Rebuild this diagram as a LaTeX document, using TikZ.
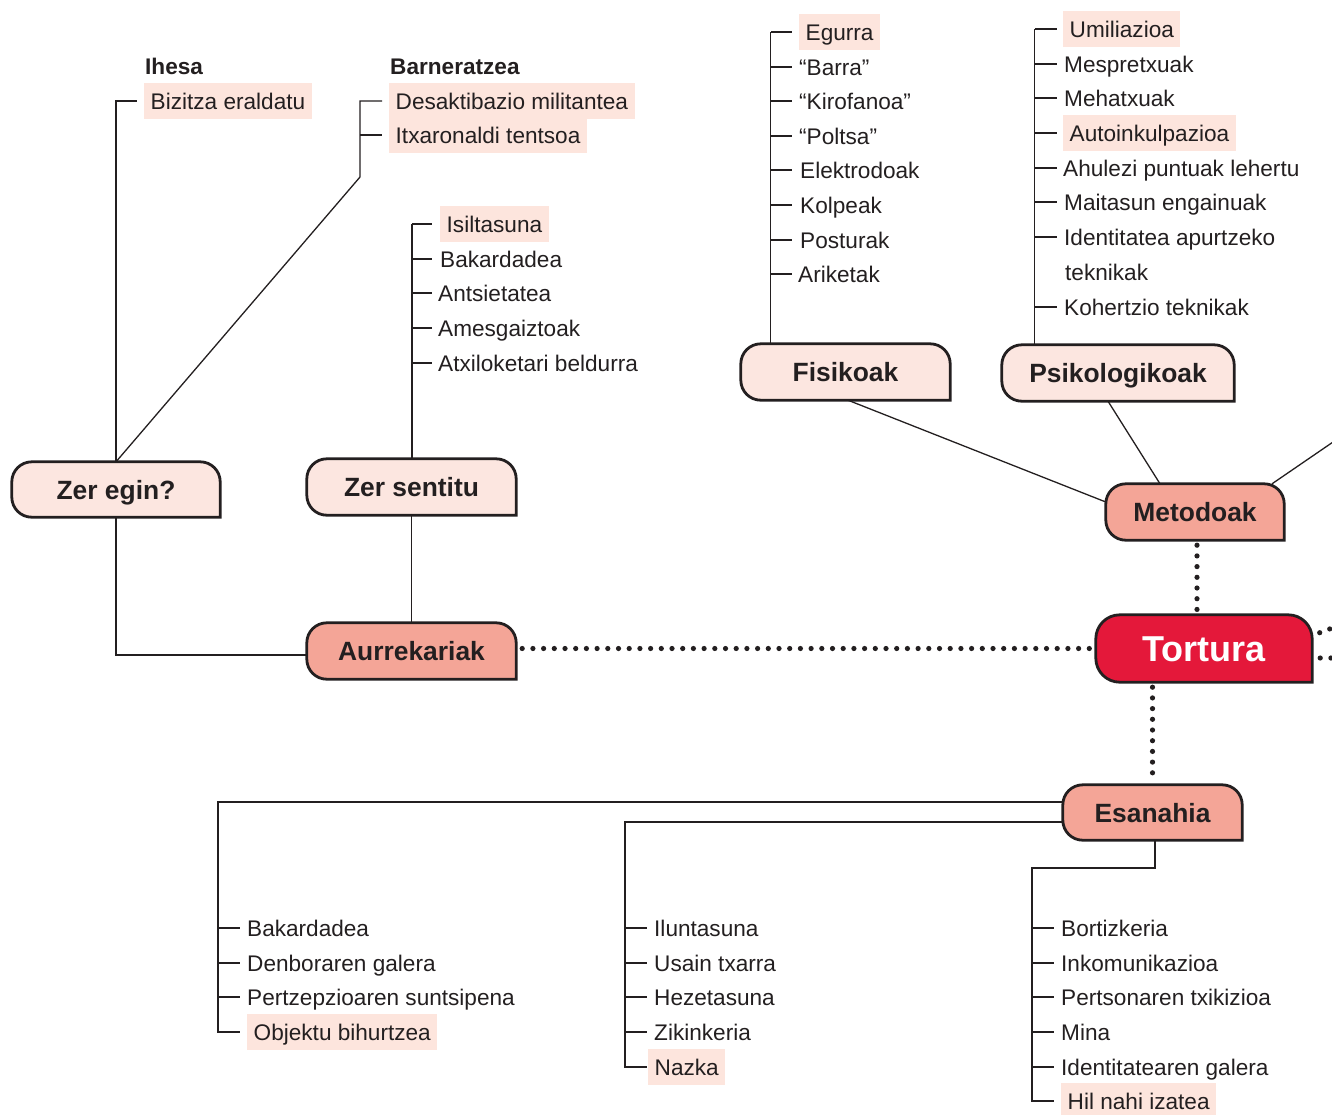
\documentclass[tikz,border=0pt]{standalone}
\usepackage{fontspec}
\setmainfont{Liberation Sans}
\usetikzlibrary{backgrounds}
\definecolor{ink}{HTML}{231F20}
\definecolor{hl}{HTML}{FDE5DD}
\definecolor{lightbox}{HTML}{FCE6E0}
\definecolor{salmon}{HTML}{F4A597}
\definecolor{torred}{HTML}{E4183A}
\tikzset{
  item/.style={anchor=west, inner xsep=0pt, inner ysep=0pt, text height=16pt, text depth=0pt, font=\fontsize{22.6}{26}\selectfont, text=ink},
  hitem/.style={item, fill=hl, inner xsep=6.5pt, inner ysep=10pt},
  blabel/.style={item, font=\fontsize{22.6}{26}\selectfont\bfseries},
  boxnode/.style={inner sep=0pt, text height=19pt, text depth=0pt, font=\fontsize{26.4}{30}\selectfont\bfseries, text=ink},
  boxline/.style={draw=ink, line width=2.8pt},
  conn/.style={draw=ink, line width=1.3pt},
  dots/.style={draw=ink, line width=5.2pt, line cap=round, dash pattern=on 0pt off 10.7pt},
}
\newcommand{\tortbox}[3]{%
  \draw[boxline, fill=#2] (#1.south east) -- ([xshift=#3]#1.south west)
    arc[start angle=270, end angle=180, radius=#3] -- ([yshift=-#3]#1.north west)
    arc[start angle=180, end angle=90, radius=#3] -- ([xshift=-#3]#1.north east)
    arc[start angle=90, end angle=0, radius=#3] -- cycle;}
\begin{document}
\begin{tikzpicture}[x=1pt,y=1pt]
\useasboundingbox (0,0) rectangle (1332,-1114);

% ---------- main boxes ----------
\node[boxnode, minimum width=208pt, minimum height=55pt] (zeregin) at (116,-489.5) {Zer egin?};
\node[boxnode, minimum width=209pt, minimum height=56pt] (zersentitu) at (411.5,-487) {Zer sentitu};
\node[boxnode, minimum width=209pt, minimum height=56pt] (aurrekariak) at (411.5,-651) {Aurrekariak};
\node[boxnode, minimum width=209pt, minimum height=56pt] (fisikoak) at (845.5,-372) {Fisikoak};
\node[boxnode, minimum width=232pt, minimum height=56pt] (psiko) at (1118,-373) {Psikologikoak};
\node[boxnode, minimum width=178pt, minimum height=56pt] (metodoak) at (1195,-512) {Metodoak};
\node[boxnode, minimum width=216pt, minimum height=67pt, text height=26pt, text=white, font=\fontsize{36}{40}\selectfont\bfseries] (tortura) at (1204,-648.5) {Tortura};
\node[boxnode, minimum width=179pt, minimum height=55pt] (esanahia) at (1152.5,-812.5) {Esanahia};

\begin{scope}[on background layer]
  \tortbox{zeregin}{lightbox}{20pt}
  \tortbox{zersentitu}{lightbox}{20pt}
  \tortbox{aurrekariak}{salmon}{20pt}
  \tortbox{fisikoak}{lightbox}{20pt}
  \tortbox{psiko}{lightbox}{20pt}
  \tortbox{metodoak}{salmon}{20pt}
  \tortbox{tortura}{torred}{24pt}
  \tortbox{esanahia}{salmon}{20pt}
\end{scope}

% ---------- Zer egin? ----------
\node[blabel] (ihesa) at (145,-66) {Ihesa};
\node[hitem] (bizitza) at (144,-101) {Bizitza eraldatu};
\node[blabel] (barner) at (390,-66) {Barneratzea};
\node[hitem] (desak) at (389,-101) {Desaktibazio militantea};
\node[hitem] (itxar) at (389,-135) {Itxaronaldi tentsoa};
\coordinate (bend) at (360,-177);
\draw[conn] (zeregin.north) |- ([xshift=-7pt]bizitza.west);
\draw[conn] (zeregin.north) -- (bend) |- ([xshift=-7pt]desak.west);
\draw[conn] (bend |- itxar.west) -- ([xshift=-7pt]itxar.west);
\draw[conn] (zeregin.south) |- ([yshift=-4pt]aurrekariak.west);

% ---------- Zer sentitu ----------
\node[hitem] (isil) at (440,-224) {Isiltasuna};
\node[item] (bak1) at (440,-259) {Bakardadea};
\node[item] (ants) at (438,-293) {Antsietatea};
\node[item] (ames) at (438,-328) {Amesgaiztoak};
\node[item] (atxi) at (438,-363) {Atxiloketari beldurra};
\coordinate (zsp) at ([xshift=0.5pt]zersentitu.north);
\draw[conn] (zsp) -- (zsp |- isil.west);
\foreach \n in {isil,bak1,ants,ames,atxi} \draw[conn] (zsp |- \n.west) -- ++(20,0);
\draw[conn] (zersentitu.south) -- (aurrekariak.north);

% ---------- Fisikoak ----------
\node[hitem] (egurra) at (799,-32) {Egurra};
\node[item] (barra) at (799,-67) {“Barra”};
\node[item] (kirof) at (799,-101) {“Kirofanoa”};
\node[item] (poltsa) at (799,-136) {“Poltsa”};
\node[item] (elek) at (800,-170) {Elektrodoak};
\node[item] (kolp) at (800,-205) {Kolpeak};
\node[item] (post) at (800,-240) {Posturak};
\node[item] (arik) at (798,-274) {Ariketak};
\coordinate (fsp) at ([xshift=30pt]fisikoak.north west);
\draw[conn] (fsp) -- (fsp |- egurra.west);
\foreach \n in {egurra,barra,kirof,poltsa,elek,kolp,post,arik} \draw[conn] (fsp |- \n.west) -- ++(21,0);

% ---------- Psikologikoak ----------
\node[hitem] (umil) at (1063,-29) {Umiliazioa};
\node[item] (mesp) at (1064,-64) {Mespretxuak};
\node[item] (meha) at (1064,-98) {Mehatxuak};
\node[hitem] (auto) at (1063,-133) {Autoinkulpazioa};
\node[item] (ahul) at (1063,-168) {Ahulezi puntuak lehertu};
\node[item] (mait) at (1064,-202) {Maitasun engainuak};
\node[item] (iden) at (1064,-237) {Identitatea apurtzeko};
\node[item] (tekn) at (1065,-272) {teknikak};
\node[item] (kohe) at (1064,-307) {Kohertzio teknikak};
\coordinate (psp) at ([xshift=33pt]psiko.north west);
\draw[conn] (psp) -- (psp |- umil.west);
\foreach \n in {umil,mesp,meha,auto,ahul,mait,iden,kohe} \draw[conn] (psp |- \n.west) -- ++(22,0);

% ---------- Metodoak ----------
\draw[conn] ([xshift=2.5pt]fisikoak.south) -- ([yshift=10pt]metodoak.west);
\draw[conn] ([xshift=-10pt]psiko.south) -- ([xshift=-35pt]metodoak.north);
\draw[conn] ([xshift=77pt]metodoak.north) -- ++(73,50);

% ---------- dotted links ----------
\draw[dots, shorten <=6pt, shorten >=4pt] (aurrekariak.east |- tortura.west) -- (tortura.west);
\draw[dots, shorten <=5pt, shorten >=3pt] ([xshift=2pt]metodoak.south) -- ([xshift=2pt]metodoak.south |- tortura.north);
\draw[dots, shorten <=5pt, shorten >=3pt] (esanahia.north |- tortura.south) -- (esanahia.north);
\draw[dots, shorten <=8pt] ([yshift=13pt]tortura.east) -- ++(40,15);
\draw[dots, shorten <=8pt] ([yshift=-9.5pt]tortura.east) -- ++(40,0);

% ---------- Esanahia left ----------
\node[item] (bak2) at (247,-928) {Bakardadea};
\node[item] (denb) at (247,-963) {Denboraren galera};
\node[item] (pert) at (247,-997) {Pertzepzioaren suntsipena};
\node[hitem] (obje) at (247,-1032) {Objektu bihurtzea};
\coordinate (lsp) at (218,-802);
\draw[conn] ([yshift=10.5pt]esanahia.west) -- (lsp) |- ([xshift=-7pt]obje.west);
\foreach \n in {bak2,denb,pert} \draw[conn] (lsp |- \n.west) -- ++(22,0);

% ---------- Esanahia middle ----------
\node[item] (ilun) at (654,-928) {Iluntasuna};
\node[item] (usai) at (654,-963) {Usain txarra};
\node[item] (heze) at (654,-997) {Hezetasuna};
\node[item] (ziki) at (654,-1032) {Zikinkeria};
\node[hitem] (nazk) at (648,-1067) {Nazka};
\coordinate (msp) at (625,-822);
\draw[conn] ([yshift=-9.5pt]esanahia.west) -- (msp) |- ([xshift=-1pt]nazk.west);
\foreach \n in {ilun,usai,heze,ziki} \draw[conn] (msp |- \n.west) -- ++(22,0);

% ---------- Esanahia right ----------
\node[item] (bort) at (1061,-928) {Bortizkeria};
\node[item] (inko) at (1061,-963) {Inkomunikazioa};
\node[item] (txik) at (1061,-997) {Pertsonaren txikizioa};
\node[item] (mina) at (1061,-1032) {Mina};
\node[item] (idga) at (1061,-1067) {Identitatearen galera};
\node[hitem] (hil) at (1061,-1101) {Hil nahi izatea};
\coordinate (rsp) at (1032,-868);
\draw[conn] ([xshift=2.5pt]esanahia.south) |- (rsp) |- ([xshift=-7pt]hil.west);
\foreach \n in {bort,inko,txik,mina,idga} \draw[conn] (rsp |- \n.west) -- ++(22,0);
\end{tikzpicture}
\end{document}
